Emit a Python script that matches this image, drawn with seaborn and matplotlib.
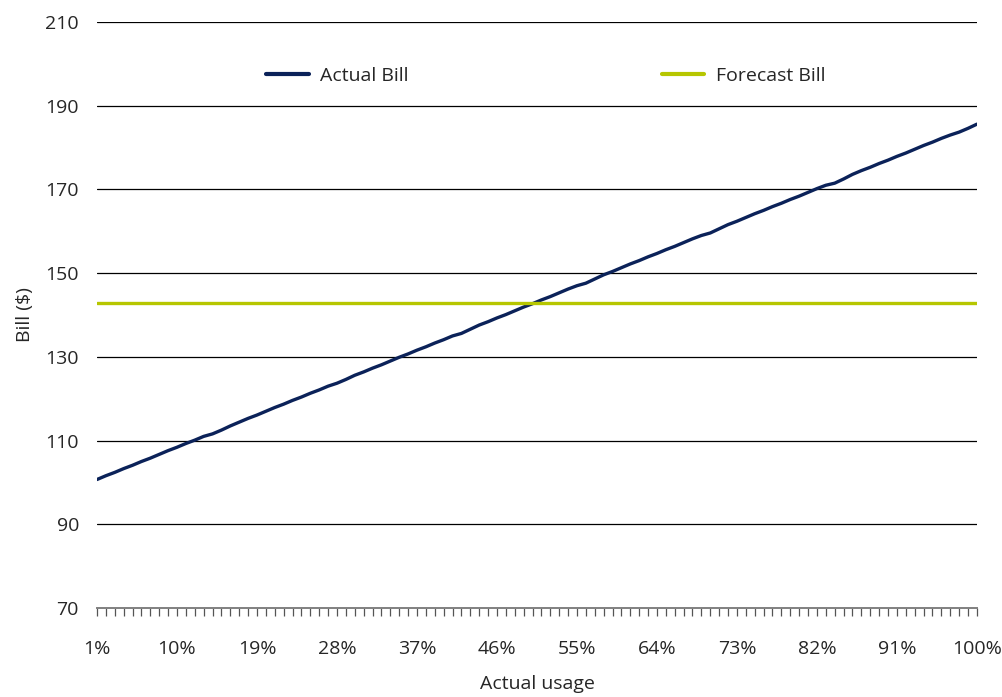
import pandas as pd
import matplotlib.pyplot as plt
import seaborn as sns

# ---- data ----
usage_pct = list(range(1, 101))
actual_bill = [
    100.7, 101.6, 102.4, 103.3, 104.1, 105.0, 105.8, 106.7, 107.6, 108.4,
    109.3, 110.1, 111.0, 111.6, 112.5, 113.5, 114.4, 115.3, 116.1, 117.0,
    117.9, 118.7, 119.6, 120.4, 121.3, 122.1, 123.0, 123.7, 124.6, 125.6,
    126.4, 127.3, 128.1, 129.0, 129.9, 130.7, 131.6, 132.4, 133.3, 134.1,
    135.0, 135.6, 136.6, 137.6, 138.4, 139.3, 140.1, 141.0, 141.9, 142.7,
    143.6, 144.4, 145.3, 146.2, 147.0, 147.6, 148.6, 149.6, 150.4, 151.3,
    152.2, 153.0, 153.9, 154.7, 155.6, 156.4, 157.3, 158.2, 159.0, 159.6,
    160.6, 161.6, 162.4, 163.3, 164.2, 165.0, 165.9, 166.7, 167.6, 168.4,
    169.3, 170.2, 171.0, 171.5, 172.5, 173.6, 174.5, 175.3, 176.2, 177.0,
    177.9, 178.7, 179.6, 180.5, 181.3, 182.2, 183.0, 183.7, 184.6, 185.6,
]
forecast_bill = [142.9] * 100
tick_positions = [1, 10, 19, 28, 37, 46, 55, 64, 73, 82, 91, 100]
tick_labels = [f"{p}%" for p in tick_positions]
y_ticks = [70, 90, 110, 130, 150, 170, 190, 210]

df = pd.DataFrame({
    "usage": usage_pct * 2,
    "bill": actual_bill + forecast_bill,
    "serie": ["Actual Bill"] * 100 + ["Forecast Bill"] * 100,
})

sns.set_style("white")
plt.rcParams["font.family"] = ["Open Sans", "DejaVu Sans"]
FS = 14

fig = plt.figure(figsize=(10.03, 6.97), dpi=100)
ax = fig.add_axes([0.0967, 0.1277, 0.8773, 0.8407])

sns.lineplot(
    data=df, x="usage", y="bill", hue="serie",
    palette={"Actual Bill": "#0b2259", "Forecast Bill": "#b6c600"},
    linewidth=2.4, ax=ax,
)

ax.set_xlim(1, 100)
ax.set_ylim(70, 210)
ax.set_yticks(y_ticks)
ax.set_xticks(tick_positions)
ax.set_xticklabels(tick_labels)
ax.set_xticks(usage_pct, minor=True)

for y in y_ticks[1:]:
    ax.axhline(y, color="black", lw=0.9, zorder=0)

for s in ["top", "right", "left"]:
    ax.spines[s].set_visible(False)
ax.spines["bottom"].set_color("#808080")
ax.spines["bottom"].set_linewidth(1.4)

ax.tick_params(axis="x", which="both", direction="out", length=6, width=0.9,
               color="#555555", bottom=True)
ax.tick_params(axis="x", which="major", labelsize=FS, pad=17)
ax.tick_params(axis="y", length=0, labelsize=FS, pad=13)

ax.set_xlabel("Actual usage", fontsize=FS, labelpad=12)
ax.set_ylabel("Bill ($)", fontsize=FS, labelpad=8)

leg = ax.legend(loc="center", bbox_to_anchor=(0.51, 0.908), ncol=2, frameon=False,
                fontsize=FS, handlelength=2.2, handletextpad=0.6, columnspacing=13)
for h in leg.get_lines():
    h.set_linewidth(3)

fig.savefig("out.png", dpi=100)
